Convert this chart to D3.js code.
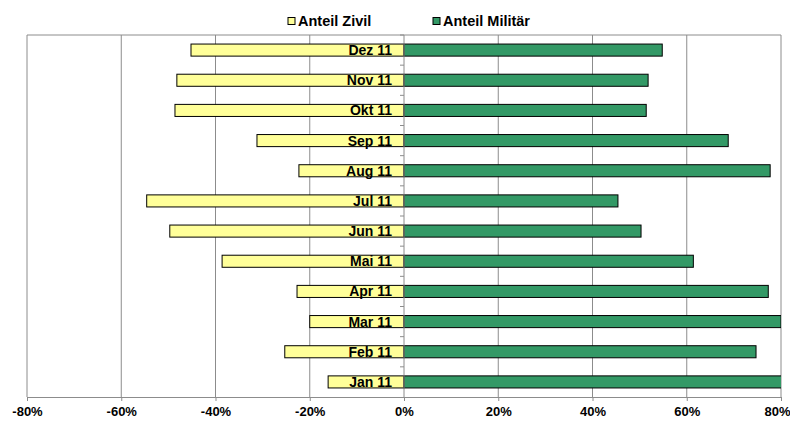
<!DOCTYPE html>
<html><head><meta charset="utf-8">
<script src="https://cdn.jsdelivr.net/npm/d3@7"></script>
<style>body{margin:0;background:#fff;} svg{display:block;}</style>
</head><body>
<svg id="c" width="790" height="422"></svg>
<script>
const months = ["Dez 11","Nov 11","Okt 11","Sep 11","Aug 11","Jul 11","Jun 11","Mai 11","Apr 11","Mar 11","Feb 11","Jan 11"];
const zivil = [-45.2,-48.2,-48.6,-31.2,-22.3,-54.6,-49.7,-38.6,-22.7,-20.0,-25.3,-16.1];
const militaer = [54.8,51.8,51.4,68.8,77.7,45.4,50.3,61.4,77.3,80.0,74.7,83.9];
const ticks = [-80,-60,-40,-20,0,20,40,60,80];
const seriesNames = ["Anteil Zivil","Anteil Militär"];
const colors = ["#FFFF99","#339966"];

const svg = d3.select("#c");
const L=27, R=781, T=35, B=397;
const x = d3.scaleLinear().domain([-80,80]).range([L,R]);
const y = d3.scaleBand().domain(months).range([T,B]).paddingInner(0.6).paddingOuter(0.3);
const yb = d3.scaleBand().domain(months).range([T,B]);
const font = "Liberation Sans, Arial, sans-serif";

svg.append("defs").append("clipPath").attr("id","clip").append("rect")
  .attr("x",L).attr("y",T).attr("width",R-L).attr("height",B-T);

// gridlines
svg.append("g").selectAll("line").data(ticks.filter(t=>t!==0)).join("line")
  .attr("x1",d=>x(d)).attr("x2",d=>x(d)).attr("y1",T).attr("y2",B)
  .attr("stroke","#8c8c8c").attr("stroke-width",1);
// frame top
svg.append("line").attr("x1",L).attr("x2",R).attr("y1",T).attr("y2",T).attr("stroke","#8c8c8c");

const g = svg.append("g").attr("clip-path","url(#clip)");
g.selectAll("rect.z").data(months).join("rect").attr("class","z")
  .attr("x",(d,i)=>x(zivil[i])).attr("width",(d,i)=>x(0)-x(zivil[i]))
  .attr("y",d=>y(d)).attr("height",y.bandwidth())
  .attr("fill",colors[0]).attr("stroke","#000").attr("stroke-width",1);
g.selectAll("rect.m").data(months).join("rect").attr("class","m")
  .attr("x",x(0)).attr("width",(d,i)=>x(militaer[i])-x(0))
  .attr("y",d=>y(d)).attr("height",y.bandwidth())
  .attr("fill",colors[1]).attr("stroke","#000").attr("stroke-width",1);

// zero axis with ticks
svg.append("line").attr("x1",x(0)).attr("x2",x(0)).attr("y1",T).attr("y2",B).attr("stroke","#8c8c8c");
svg.append("g").selectAll("line").data(months).join("line")
  .attr("x1",x(0)-4).attr("x2",x(0)).attr("y1",d=>yb(d)).attr("y2",d=>yb(d))
  .attr("stroke","#8c8c8c");

// category labels
svg.append("g").selectAll("text").data(months).join("text")
  .attr("x",x(0)-12).attr("y",d=>y(d)+y.bandwidth()/2).attr("dy","0.36em")
  .attr("text-anchor","end").attr("font-family",font).attr("font-weight","bold")
  .attr("font-size",14).text(d=>d);

// bottom axis
const ax = svg.append("g").attr("transform",`translate(0,${B})`)
  .call(d3.axisBottom(x).tickValues(ticks).tickFormat(d=>d+"%").tickSize(4).tickPadding(6));
ax.select(".domain").attr("stroke","#8c8c8c");
ax.selectAll(".tick line").attr("stroke","#8c8c8c");
ax.selectAll("text").attr("font-family",font).attr("font-weight","bold").attr("font-size",13).attr("fill","#000");
ax.selectAll(".tick").filter(d=>d===80).select("text").attr("dx",-4);

// legend
const lg = svg.append("g");
lg.append("rect").attr("x",228).attr("y",4).attr("width",360).attr("height",28).attr("fill","#fff");
const lx = [288,433];
seriesNames.forEach((n,i)=>{
  lg.append("rect").attr("x",lx[i]).attr("y",17.5).attr("width",7).attr("height",7)
    .attr("fill",colors[i]).attr("stroke","#000");
  lg.append("text").attr("x",lx[i]+10).attr("y",26).attr("font-family",font)
    .attr("font-weight","bold").attr("font-size",14.5).text(n);
});
</script>
</body></html>
